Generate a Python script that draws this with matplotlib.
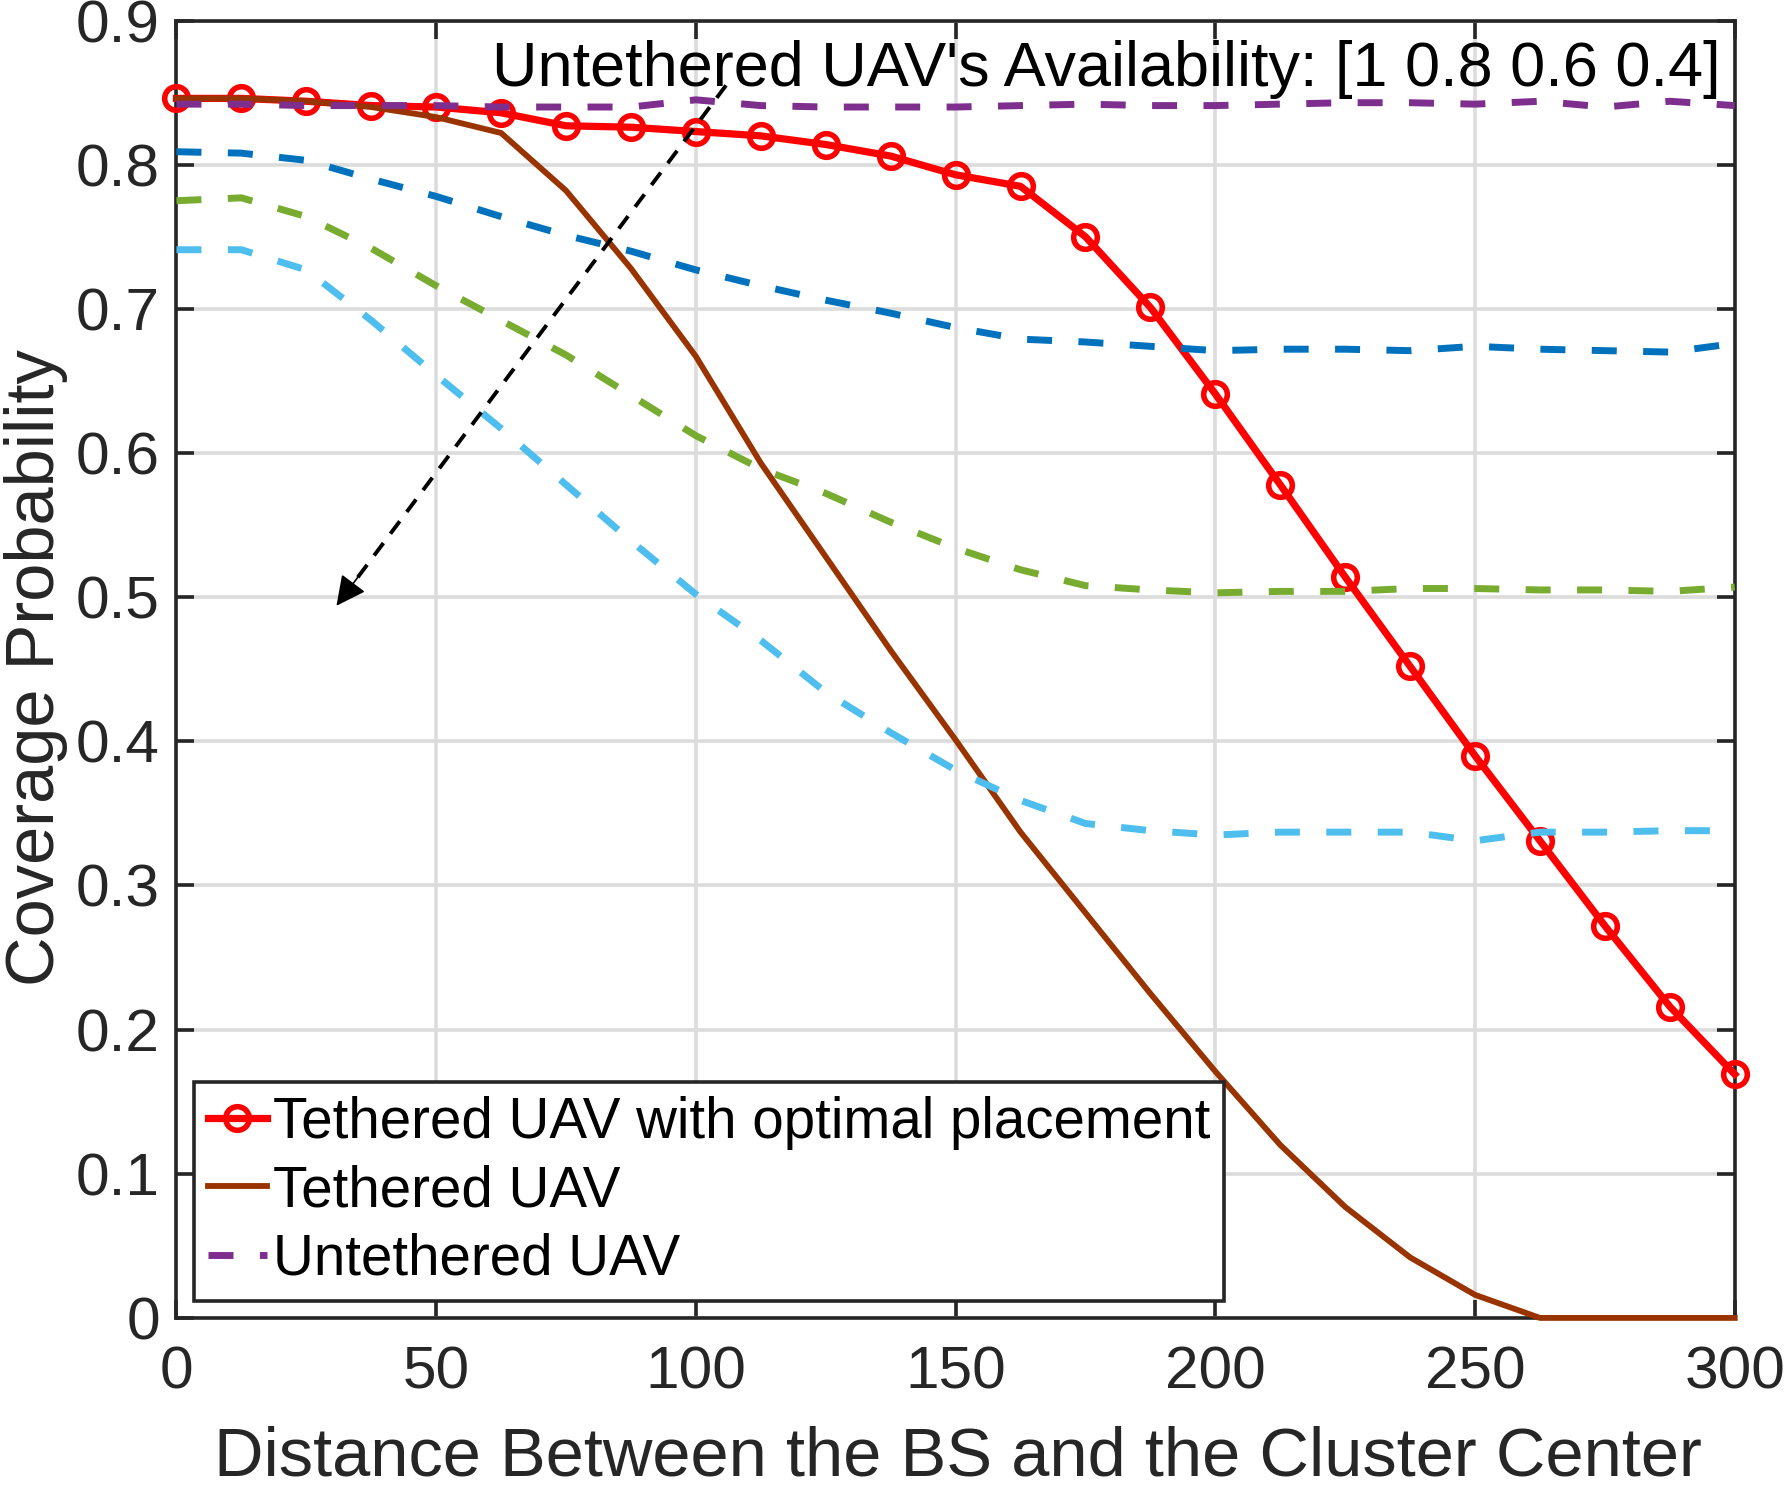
import matplotlib
matplotlib.use("Agg")
import matplotlib.pyplot as plt

# distance between BS and cluster center
dist = [0, 12.5, 25, 37.5, 50, 62.5, 75, 87.5, 100, 112.5, 125, 137.5, 150,
        162.5, 175, 187.5, 200, 212.5, 225, 237.5, 250, 262.5, 275, 287.5, 300]

# tethered UAV with optimal placement
tethered_opt = [0.846, 0.846, 0.844, 0.841, 0.840, 0.836, 0.827, 0.826, 0.823, 0.820,
                0.814, 0.806, 0.793, 0.785, 0.750, 0.701, 0.641, 0.578, 0.514, 0.452,
                0.390, 0.331, 0.272, 0.216, 0.169]

# tethered UAV (fixed placement)
tethered = [0.846, 0.846, 0.844, 0.840, 0.833, 0.822, 0.782, 0.728, 0.667, 0.593,
            0.528, 0.463, 0.401, 0.337, 0.281, 0.225, 0.171, 0.120, 0.077, 0.042,
            0.016, 0.0, 0.0, 0.0, 0.0]

# untethered UAV, availability 1 / 0.8 / 0.6 / 0.4
untethered_10 = [0.842, 0.842, 0.841, 0.841, 0.841, 0.840, 0.840, 0.840, 0.845, 0.841,
                 0.840, 0.840, 0.840, 0.841, 0.842, 0.841, 0.841, 0.842, 0.843, 0.843,
                 0.842, 0.844, 0.840, 0.844, 0.841]
untethered_08 = [0.809, 0.808, 0.803, 0.790, 0.778, 0.764, 0.751, 0.740, 0.727, 0.716,
                 0.706, 0.697, 0.687, 0.679, 0.677, 0.674, 0.671, 0.672, 0.672, 0.671,
                 0.674, 0.672, 0.671, 0.670, 0.676]
untethered_06 = [0.775, 0.777, 0.764, 0.742, 0.716, 0.692, 0.668, 0.640, 0.612, 0.589,
                 0.572, 0.552, 0.534, 0.519, 0.508, 0.505, 0.503, 0.504, 0.504, 0.506,
                 0.506, 0.505, 0.505, 0.504, 0.507]
untethered_04 = [0.741, 0.741, 0.727, 0.692, 0.654, 0.617, 0.578, 0.539, 0.502, 0.470,
                 0.434, 0.406, 0.380, 0.359, 0.343, 0.338, 0.335, 0.337, 0.337, 0.337,
                 0.331, 0.337, 0.337, 0.338, 0.338]

untethered_colors = ['#7E2F8E', '#0072BD', '#77AC30', '#4DBEEE']

# annotation arrow (data coords)
arrow_start = (105.8, 0.855)
arrow_end = (30.8, 0.494)
note_pos = (60.7, 0.8546)
note_text = "Untethered UAV's Availability: [1 0.8 0.6 0.4]"

plt.rcParams['font.family'] = ['Liberation Sans', 'DejaVu Sans']
axcol = '#262626'

fig = plt.figure(figsize=(17.86, 14.88), dpi=100)
ax = fig.add_axes([0.0988, 0.1143, 0.8725, 0.8719])

ax.plot(dist, tethered_opt, '-o', color='red', lw=5.2, ms=17, mew=4,
        mfc='none', label='Tethered UAV with optimal placement', clip_on=False, zorder=3)
ax.plot(dist, tethered, '-', color='#993300', lw=4.2, label='Tethered UAV',
        clip_on=False, zorder=3)
series = [untethered_10, untethered_08, untethered_06, untethered_04]
for i, (vals, c) in enumerate(zip(series, untethered_colors)):
    ax.plot(dist, vals, color=c, lw=5, dashes=(3.6, 3.8), zorder=3,
            label='Untethered UAV' if i == 0 else None)

# dashed shaft + solid filled head
ax.plot([arrow_start[0], arrow_end[0]], [arrow_start[1], arrow_end[1]],
        color='black', lw=2.8, dashes=(4, 3), zorder=4)
head_from = (arrow_end[0] + 0.07 * (arrow_start[0] - arrow_end[0]),
             arrow_end[1] + 0.07 * (arrow_start[1] - arrow_end[1]))
ax.annotate('', xy=arrow_end, xytext=head_from,
            arrowprops=dict(arrowstyle='-|>', color='black', lw=1.2,
                            mutation_scale=46, shrinkA=0, shrinkB=0), zorder=4)
ax.text(note_pos[0], note_pos[1], note_text, fontsize=45.4, ha='left', va='baseline',
        color='black', zorder=4)

ax.set_xlim(0, 300)
ax.set_ylim(0, 0.9)
ax.set_xticks([0, 50, 100, 150, 200, 250, 300])
ax.set_yticks([0, 0.1, 0.2, 0.3, 0.4, 0.5, 0.6, 0.7, 0.8, 0.9])
ax.set_yticklabels(['0', '0.1', '0.2', '0.3', '0.4', '0.5', '0.6', '0.7', '0.8', '0.9'])
ax.grid(True, color='#dcdcdc', lw=2.6)
ax.set_axisbelow(True)
for s in ax.spines.values():
    s.set_color(axcol)
    s.set_linewidth(2.6)
ax.tick_params(direction='in', length=13, width=2.6, colors=axcol, labelsize=43.5,
               top=True, right=True)
ax.tick_params(axis='x', pad=20)
ax.tick_params(axis='y', pad=12)

ax.set_xlabel('Distance Between the BS and the Cluster Center', fontsize=49.4,
              color=axcol, va='baseline')
ax.xaxis.set_label_coords(0.5015, -0.1218)
ax.set_ylabel('Coverage Probability', fontsize=49.4, color=axcol, va='baseline')
ax.yaxis.set_label_coords(-0.0789, 0.501)

leg = ax.legend(loc='lower left', bbox_to_anchor=(0.011, 0.0134), fontsize=40.7,
                frameon=True, fancybox=False, framealpha=1, edgecolor=axcol,
                handlelength=1.05, handletextpad=0.1, borderpad=0.25, labelspacing=0.25,
                borderaxespad=0)
leg.get_frame().set_linewidth(2.6)
for t in leg.get_texts():
    t.set_color('black')

fig.savefig('out.png', dpi=100)
